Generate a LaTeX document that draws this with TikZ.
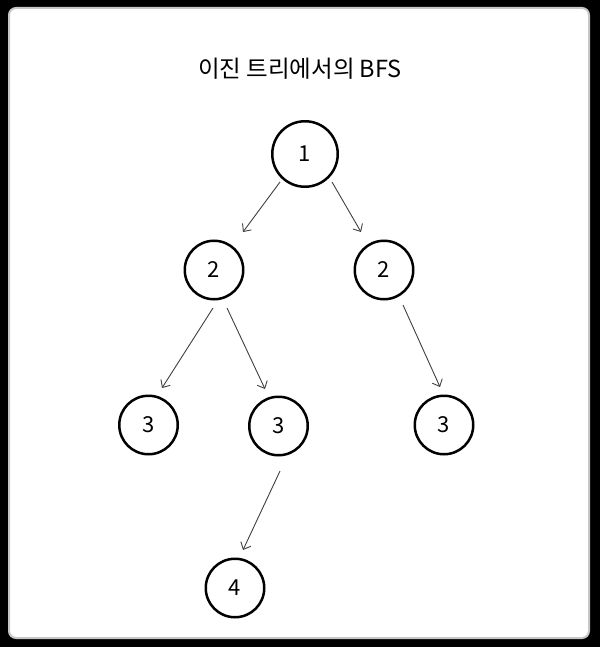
\documentclass[tikz,border=0pt]{standalone}
\usepackage{fontspec}
\setmainfont{Noto Sans CJK KR}
\usetikzlibrary{arrows.meta, calc}
\tikzset{vertex/.style={circle,draw,line width=2.5pt,minimum size=58.5pt,inner sep=0pt,font=\fontsize{22}{26}\selectfont},line/.style={-{Straight Barb[length=6pt,width=11pt]},draw=black!75,line width=0.9pt}}

\begin{document}
\begin{tikzpicture}[x=1pt,y=-1pt]
\fill[black] (0,0) rectangle (600,647);
\filldraw[fill=white,draw=gray!45,line width=2pt,rounded corners=7pt] (9,8) rectangle (589,638);
\node[font=\fontsize{23.5}{28}\selectfont] (title) at (300,69) {이진 트리에서의 BFS};
\node[vertex,minimum size=65.5pt] (n1) at (305,154) {1};
\node[vertex] (n2l) at (214,270) {2};
\node[vertex] (n2r) at (384,270) {2};
\node[vertex] (n3a) at (148.5,425) {3};
\node[vertex] (n3b) at (278.5,426) {3};
\node[vertex] (n3c) at (444,425) {3};
\node[vertex] (n4) at (235,588) {4};
\draw[line] ($(n1)+(-25,28)$) -- ($(n2l)+(29,-38)$);
\draw[line] ($(n1)+(27,28)$) -- ($(n2r)+(-23,-38)$);
\draw[line] ($(n2l)+(-1,38)$) -- ($(n3a)+(13.5,-37)$);
\draw[line] ($(n2l)+(13,38)$) -- ($(n3b)+(-13.5,-37)$);
\draw[line] ($(n2r)+(19,35)$) -- ($(n3c)+(-4,-38)$);
\draw[line] ($(n3b)+(1.5,45)$) -- ($(n4)+(8,-38)$);
\end{tikzpicture}
\end{document}
